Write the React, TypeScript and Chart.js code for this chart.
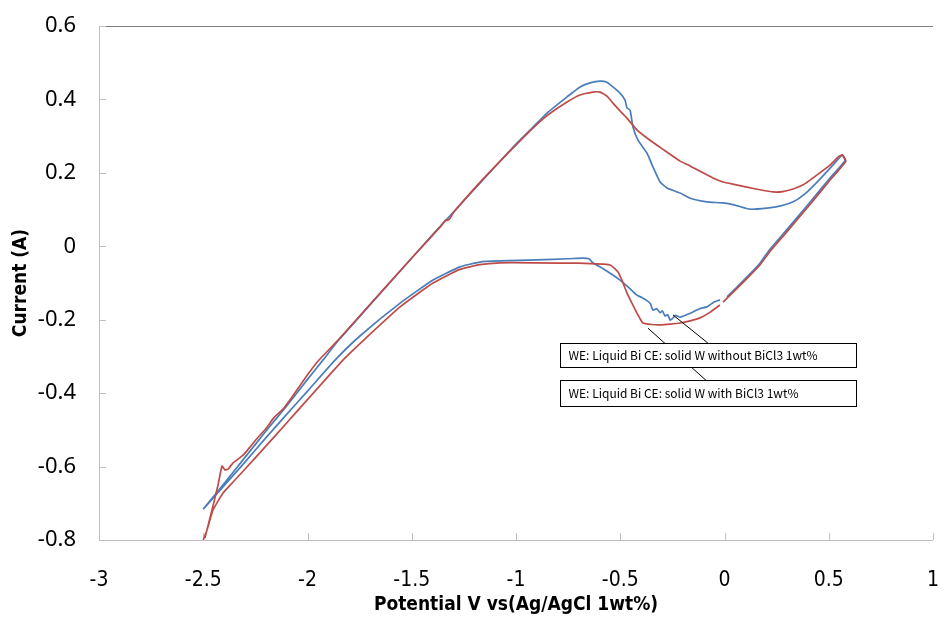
import React, { useEffect, useRef } from "react";
import { Chart, registerables } from "chart.js";

Chart.register(...registerables);

const xTicks = [-3, -2.5, -2, -1.5, -1, -0.5, 0, 0.5, 1];
const yTicks = [0.6, 0.4, 0.2, 0, -0.2, -0.4, -0.6, -0.8];

const xTitle = "Potential V vs(Ag/AgCl 1wt%)";
const yTitle = "Current (A)";

const seriesNames = [
  "WE: Liquid Bi CE: solid W without BiCl3 1wt%",
  "WE: Liquid Bi CE: solid W with BiCl3 1wt%",
];

// Series 1: without BiCl3 (blue)
const withoutX = [
  -2.5, -2.4, -2.3, -2.2, -2.1, -2.0, -1.926, -1.854, -1.7, -1.6, -1.5, -1.4, -1.3, -1.163, -1.014, -0.93, -0.851,
  -0.755, -0.693, -0.645, -0.597, -0.564, -0.535, -0.501, -0.477, -0.468, -0.453, -0.439, -0.415, -0.372, -0.343,
  -0.309, -0.276, -0.213, -0.165, -0.084, -0.007, 0.05, 0.122, 0.204, 0.27, 0.329, 0.39, 0.444, 0.52, 0.55, 0.565,
  0.578,
  0.5, 0.4, 0.3, 0.218, 0.17, 0.1, 0.012, 0, -0.022, -0.05, -0.084, -0.12, -0.151, -0.18, -0.213, -0.235, -0.25,
  -0.261, -0.272, -0.285, -0.298, -0.309, -0.325, -0.343, -0.356, -0.372, -0.395, -0.42, -0.46, -0.501, -0.58,
  -0.631, -0.65, -0.68, -0.75, -0.9, -1.077, -1.173, -1.269, -1.398, -1.556, -1.75, -1.868, -2.0, -2.1, -2.2, -2.3,
  -2.4, -2.5,
];
const withoutY = [
  -0.716, -0.646, -0.575, -0.504, -0.435, -0.3625, -0.31, -0.258, -0.16, -0.096, -0.032, 0.032, 0.093, 0.178, 0.27,
  0.318, 0.363, 0.407, 0.434, 0.445, 0.45, 0.447, 0.434, 0.417, 0.398, 0.377, 0.371, 0.325, 0.289, 0.254, 0.216,
  0.175, 0.159, 0.145, 0.131, 0.121, 0.118, 0.112, 0.101, 0.104, 0.11, 0.121, 0.145, 0.175, 0.221, 0.241, 0.248,
  0.233,
  0.182, 0.113, 0.046, -0.008, -0.046, -0.088, -0.138, null, -0.146, -0.152, -0.165, -0.17, -0.179, -0.186, -0.193,
  -0.188, -0.197, -0.201, -0.186, -0.19, -0.176, -0.181, -0.17, -0.174, -0.156, -0.148, -0.14, -0.133, -0.112,
  -0.092, -0.062, -0.045, -0.034, -0.032, -0.034, -0.037, -0.04, -0.043, -0.056, -0.092, -0.155, -0.245, -0.31,
  -0.3945, -0.458, -0.522, -0.588, -0.652, -0.716,
];

// Series 2: with BiCl3 (red)
const withX = [
  -2.492, -2.458, -2.429, -2.41, -2.396, -2.381, -2.357, -2.309, -2.276, -2.24, -2.2, -2.16, -2.12, -2.08, -2.0,
  -1.95, -1.854, -1.7, -1.5, -1.36, -1.34, -1.32, -1.3, -1.163, -1.014, -0.93, -0.851, -0.755, -0.693, -0.631,
  -0.597, -0.564, -0.535, -0.5, -0.468, -0.42, -0.372, -0.295, -0.213, -0.165, -0.11, -0.055, -0.007, 0.05, 0.108,
  0.17, 0.233, 0.28, 0.329, 0.38, 0.424, 0.506, 0.544, 0.565, 0.582,
  0.5, 0.4, 0.3, 0.218, 0.17, 0.1, -0.007, -0.015, -0.022, -0.07, -0.117, -0.165, -0.213, -0.26, -0.309, -0.35,
  -0.391, -0.405, -0.42, -0.444, -0.468, -0.49, -0.511, -0.549, -0.7, -0.9, -1.077, -1.173, -1.269, -1.398, -1.556,
  -1.72, -1.83, -2.084, -2.242, -2.357, -2.405, -2.453, -2.482, -2.5,
];
const withY = [
  -0.795, -0.718, -0.65, -0.599, -0.609, -0.607, -0.59, -0.569, -0.547, -0.522, -0.497, -0.466, -0.445, -0.415,
  -0.35, -0.313, -0.256, -0.158, -0.032, 0.055, 0.07, 0.073, 0.092, 0.18, 0.268, 0.316, 0.356, 0.393, 0.412, 0.42,
  0.42, 0.409, 0.39, 0.368, 0.349, 0.317, 0.295, 0.264, 0.232, 0.219, 0.202, 0.186, 0.175, 0.168, 0.161, 0.154,
  0.148, 0.149, 0.156, 0.168, 0.186, 0.221, 0.243, 0.249, 0.232,
  0.176, 0.107, 0.04, -0.014, -0.051, -0.092, -0.152, null, -0.16, -0.18, -0.195, -0.203, -0.209, -0.212, -0.214,
  -0.213, -0.209, -0.197, -0.182, -0.155, -0.127, -0.095, -0.07, -0.051, -0.046, -0.045, -0.045, -0.05, -0.063,
  -0.1, -0.165, -0.25, -0.31, -0.471, -0.571, -0.642, -0.672, -0.718, -0.773, -0.8,
];

const toPoints = (xs: number[], ys: (number | null)[]) => xs.map((x, i) => ({ x, y: ys[i] }));

const fmt = (v: number) => String(Number(v.toFixed(1)));

const AXIS_COLOR = "#bfbfbf";

const framePlugin = {
  id: "frame",
  beforeDatasetsDraw(chart: any) {
    const { ctx, chartArea: a, scales } = chart;
    const xs = scales.x;
    const ys = scales.y;
    ctx.save();
    ctx.lineWidth = 1;
    ctx.strokeStyle = "#808080";
    ctx.beginPath();
    ctx.moveTo(a.left, Math.round(a.top) + 0.5);
    ctx.lineTo(a.right, Math.round(a.top) + 0.5);
    ctx.stroke();
    ctx.strokeStyle = AXIS_COLOR;
    ctx.beginPath();
    ctx.moveTo(Math.round(a.left) + 0.5, a.top);
    ctx.lineTo(Math.round(a.left) + 0.5, a.bottom);
    ctx.moveTo(a.left, Math.round(a.bottom) + 0.5);
    ctx.lineTo(a.right, Math.round(a.bottom) + 0.5);
    for (const v of yTicks) {
      const py = Math.round(ys.getPixelForValue(v)) + 0.5;
      ctx.moveTo(a.left, py);
      ctx.lineTo(a.left + 7, py);
    }
    for (const v of xTicks) {
      const px = Math.round(xs.getPixelForValue(v)) + 0.5;
      ctx.moveTo(px, a.bottom);
      ctx.lineTo(px, a.bottom - 7);
    }
    ctx.stroke();
    ctx.restore();
  },
  afterDatasetsDraw(chart: any) {
    const { ctx, scales } = chart;
    const X = (v: number) => scales.x.getPixelForValue(v);
    const Y = (v: number) => scales.y.getPixelForValue(v);
    const callouts = [
      { text: seriesNames[0], box: [-0.789, 0.631, -0.264, -0.329], line: [-0.247, -0.187, -0.079, -0.264] },
      { text: seriesNames[1], box: [-0.789, 0.631, -0.364, -0.435], line: [-0.367, -0.223, -0.079, -0.37] },
    ];
    ctx.save();
    ctx.strokeStyle = "#000";
    ctx.lineWidth = 1;
    for (const c of callouts) {
      ctx.beginPath();
      ctx.moveTo(X(c.line[0]), Y(c.line[1]));
      ctx.lineTo(X(c.line[2]), Y(c.line[3]));
      ctx.stroke();
    }
    ctx.font = '12px "Noto Sans CJK KR", "Noto Sans", sans-serif';
    ctx.textBaseline = "middle";
    ctx.textAlign = "left";
    for (const c of callouts) {
      const l = Math.round(X(c.box[0])) + 0.5;
      const r = Math.round(X(c.box[1])) + 0.5;
      const t = Math.round(Y(c.box[2])) + 0.5;
      const b = Math.round(Y(c.box[3])) + 0.5;
      ctx.fillStyle = "#fff";
      ctx.fillRect(l, t, r - l, b - t);
      ctx.strokeRect(l, t, r - l, b - t);
      ctx.fillStyle = "#000";
      ctx.fillText(c.text, l + 8, (t + b) / 2);
    }
    ctx.restore();
  },
};

export default function App() {
  const ref = useRef<HTMLCanvasElement | null>(null);
  useEffect(() => {
    document.body.style.margin = "0";
    const canvas = ref.current!;
    const chart = new Chart(canvas, {
      type: "scatter",
      data: {
        datasets: [
          {
            label: seriesNames[1],
            data: toPoints(withX, withY),
            showLine: true,
            borderColor: "#be4b48",
            backgroundColor: "#be4b48",
            borderWidth: 1.7,
            pointRadius: 0,
            tension: 0.15,
            spanGaps: false,
          },
          {
            label: seriesNames[0],
            data: toPoints(withoutX, withoutY),
            showLine: true,
            borderColor: "#4a7ebb",
            backgroundColor: "#4a7ebb",
            borderWidth: 1.7,
            pointRadius: 0,
            tension: 0.15,
            spanGaps: false,
          },
        ],
      },
      options: {
        responsive: false,
        animation: false,
        layout: { padding: { top: 26, right: 16, left: 0, bottom: 0 } },
        plugins: { legend: { display: false }, tooltip: { enabled: false } },
        scales: {
          x: {
            type: "linear",
            min: -3,
            max: 1,
            afterBuildTicks: (s: any) => {
              s.ticks = xTicks.map((v) => ({ value: v }));
            },
            afterFit: (s: any) => {
              s.height = 80;
              s.paddingLeft = 0;
              s.paddingRight = 0;
            },
            grid: { display: false, drawTicks: false },
            border: { display: false },
            ticks: {
              padding: 28,
              color: "#000",
              maxRotation: 0,
              autoSkip: false,
              font: { family: '"DejaVu Sans Condensed", "Liberation Sans Narrow", "Noto Sans", sans-serif', size: 21 },
              callback: (v: any) => fmt(Number(v)),
            },
            title: {
              display: true,
              text: xTitle,
              color: "#000",
              font: { family: '"DejaVu Sans Condensed", "Noto Sans", sans-serif', size: 19, weight: "bold" },
              padding: { top: 0, bottom: 4 },
            },
          },
          y: {
            type: "linear",
            min: -0.8,
            max: 0.6,
            afterBuildTicks: (s: any) => {
              s.ticks = yTicks.map((v) => ({ value: v }));
            },
            afterFit: (s: any) => {
              s.width = 99;
              s.paddingTop = 0;
              s.paddingBottom = 0;
            },
            grid: { display: false, drawTicks: false },
            border: { display: false },
            ticks: {
              padding: 23,
              color: "#000",
              autoSkip: false,
              font: { family: '"Noto Sans", "Open Sans", sans-serif', size: 22 },
              callback: (v: any) => fmt(Number(v)),
            },
            title: {
              display: true,
              text: yTitle,
              color: "#000",
              font: { family: '"DejaVu Sans Condensed", "Noto Sans", sans-serif', size: 19, weight: "bold" },
              padding: { top: 10, bottom: 0 },
            },
          },
        },
      },
      plugins: [framePlugin],
    });
    return () => chart.destroy();
  }, []);
  return (
    <div style={{ position: "absolute", left: 0, top: 0, width: 949, height: 620, background: "#fff" }}>
      <canvas ref={ref} width={949} height={620} />
    </div>
  );
}
